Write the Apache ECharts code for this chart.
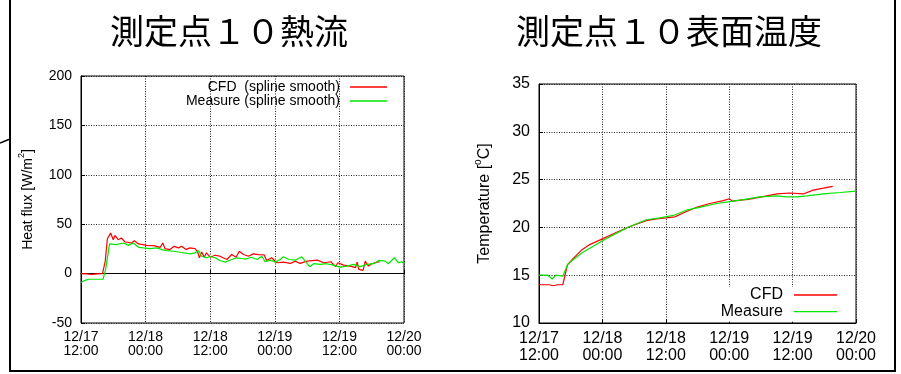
<!DOCTYPE html>
<html>
<head>
<meta charset="utf-8">
<script src="https://cdn.jsdelivr.net/npm/echarts@6/dist/echarts.min.js"></script>
<style>
  html, body { margin: 0; padding: 0; background: #fff; }
  #chart { width: 901px; height: 374px; }
</style>
</head>
<body>
<div id="chart"></div>
<script>
// Time axis: hours elapsed since 12/17 12:00, ticks every 12 h
const timeTickLabels = ['12/17\n12:00', '12/18\n00:00', '12/18\n12:00', '12/19\n00:00', '12/19\n12:00', '12/20\n00:00'];

// Heat flux at point 10 [W/m2]
const fluxCfdHours = [0, 1, 2, 3, 4, 4.2, 4.5, 4.9, 5.5, 6, 6.3, 6.9, 7.5, 8.2, 8.8, 9.4, 9.9, 10.7, 12.2, 13.5,
  14.7, 15.2, 15.6, 16.5, 17.3, 18.1, 18.7, 19.5, 20.2, 21.2, 21.6, 22, 22.4, 22.9, 23.3, 24, 24.9, 25.8, 27.1, 28,
  28.8, 29.4, 30.2, 31.1, 32, 33, 34, 34.5, 35.4, 36.4, 37.6, 38.9, 39.8, 40.7, 42, 43.9, 45.1, 46.4, 47.3, 47.7,
  48.8, 50, 51, 51.3, 51.6, 52.4, 52.8, 53.4, 54, 55, 55.5];
const fluxCfd = [0, -0.3, -0.7, -0.3, 0, 1, 12.6, 35.3, 41, 34.3, 38.6, 34.3, 36, 32, 31.6, 31, 33.3, 30, 28.6, 28.3,
  26.6, 31, 25.3, 24.3, 27.6, 26, 27.6, 24.3, 26, 25.3, 22.6, 16, 22, 16.6, 21, 16.6, 18.6, 17.6, 14.3, 19.3,
  16.6, 22.6, 19.3, 17.6, 20, 19.3, 19, 13.3, 16, 11, 11.6, 10.3, 12.6, 10.3, 12.6, 13.6, 11, 12, 7, 11,
  8.6, 7.6, 6, 11.6, 4.3, 3.3, 12.6, 7.6, 10, 11.6, 12];

const fluxMeasHours = [0, 0.5, 1.4, 4.1, 4.6, 5.3, 6.6, 7.9, 8.8, 9.7, 10.7, 11.6, 12.8, 14.1, 15, 15.9, 17.2, 18.4,
  20.3, 21.2, 21.8, 22.4, 23.3, 24, 24.9, 25.8, 26.8, 28, 28.9, 30.2, 30.8, 31.7, 32.7, 33.6, 34.2, 35.2, 36.1, 37,
  37.6, 38.6, 39.8, 41, 42.5, 43.2, 44.4, 45.6, 46.9, 48.1, 49.4, 50.6, 51.9, 53.1, 54.4, 55.3, 56.5, 57.1, 58.2,
  59, 59.6, 60];
const fluxMeas = [-9, -7.4, -5.7, -5.7, 5, 30, 29.3, 31, 28.6, 31, 26.6, 26, 25.3, 26, 24.3, 23.3, 22.6, 21.6,
  20, 21, 23.3, 17.6, 16, 17.3, 16, 13.3, 11.6, 14.3, 16, 15, 15, 16.6, 14.3, 17.6, 12, 13.6, 11.6, 14.3,
  17, 14.3, 13.6, 17, 7, 10, 9.3, 10, 8.6, 6.6, 7.6, 9.3, 7, 9.3, 10, 13.3, 12.6, 10, 16,
  11, 12, 10];

// Surface temperature at point 10 [degC]
const tempCfdHours = [0, 2, 2.6, 3.5, 4.5, 5.4, 6.4, 8, 9.6, 12, 14.7, 17.2, 20.3, 22.2, 24.1, 25.7, 27.3, 29.8,
  32.3, 34.9, 36, 36.6, 39.9, 43.1, 45, 47.5, 50, 51.9, 53.8, 55.6];
const tempCfd = [14, 14, 13.9, 14, 14, 16.1, 16.7, 17.6, 18.2, 18.8, 19.5, 20.1, 20.7, 20.9, 21.0, 21.1, 21.5, 22.1,
  22.5, 22.8, 23.0, 22.75, 22.95, 23.3, 23.5, 23.6, 23.5, 23.9, 24.1, 24.3];

const tempMeasHours = [0, 1.7, 2.5, 3.2, 4.5, 5.4, 6.4, 8.3, 10.2, 12, 14.7, 17.2, 20.3, 22.9, 25.4, 27.9, 30.4,
  33.6, 36.1, 38.7, 41.8, 45, 46.9, 48.8, 50.7, 53.8, 57, 60];
const tempMeas = [15, 15, 14.6, 15, 14.9, 16.1, 16.6, 17.4, 18.0, 18.6, 19.4, 20.1, 20.8, 21.0, 21.25, 21.8, 22.1,
  22.5, 22.7, 22.9, 23.2, 23.3, 23.2, 23.2, 23.3, 23.5, 23.65, 23.8];

const zip = (xs, ys) => xs.map((x, i) => [x, ys[i]]);

const LATIN = 'Liberation Sans';
const CJK = 'Noto Sans CJK JP';
const RED = '#ff0000';
const GREEN = '#00e600';

function timeAxis(gridIndex, fontSize, lineHeight) {
  return {
    type: 'value', gridIndex, min: 0, max: 60, interval: 12,
    axisLine: { show: true, lineStyle: { color: '#000', width: 1 } },
    axisTick: { show: true, inside: true, length: 4, lineStyle: { color: '#000' } },
    axisLabel: {
      color: '#000', fontFamily: LATIN, fontSize, lineHeight, margin: 7,
      formatter: v => timeTickLabels[Math.round(v / 12)]
    },
    splitLine: { show: true, lineStyle: { color: '#222', type: [1, 1.5], width: 1 } }
  };
}

function valueAxis(gridIndex, min, max, interval, fontSize, nameRich) {
  return {
    type: 'value', gridIndex, min, max, interval,
    name: nameRich, nameLocation: 'middle', nameGap: 46,
    nameTextStyle: {
      rich: {
        n: { fontFamily: LATIN, fontSize, lineHeight: fontSize + 4, color: '#000', verticalAlign: 'bottom' },
        s: { fontFamily: LATIN, fontSize: Math.round(fontSize * 0.65), lineHeight: Math.round(fontSize * 0.65),
             color: '#000', verticalAlign: 'top' }
      }
    },
    axisLine: { show: true, lineStyle: { color: '#000', width: 1 } },
    axisTick: { show: true, inside: true, length: 4, lineStyle: { color: '#000' } },
    axisLabel: { color: '#000', fontFamily: LATIN, fontSize, margin: 9 },
    splitLine: { show: true, lineStyle: { color: '#222', type: [1, 1.5], width: 1 } }
  };
}

function lineSeries(name, xAxisIndex, data, color) {
  return {
    name, type: 'line', xAxisIndex, yAxisIndex: xAxisIndex, data,
    symbol: 'none', showSymbol: false, smooth: false, animation: false,
    lineStyle: { color, width: 1.2 }, itemStyle: { color }
  };
}

const chart = echarts.init(document.getElementById('chart'), null, { renderer: 'canvas' });
chart.setOption({
  backgroundColor: '#fff',
  animation: false,
  grid: [
    { left: 81, top: 76, width: 323, height: 247, show: true, borderColor: '#000', borderWidth: 1 },
    { left: 539, top: 84, width: 317, height: 239, show: true, borderColor: '#000', borderWidth: 1 }
  ],
  xAxis: [timeAxis(0, 14, 14), timeAxis(1, 16, 17)],
  yAxis: [
    valueAxis(0, -50, 200, 50, 14, '{n|Heat flux [W/m}{s|2}{n|]}'),
    valueAxis(1, 10, 35, 5, 16, '{n|Temperature [}{s|o}{n|C]}')
  ],
  legend: [
    {
      data: ['CFD  (spline smooth)', 'Measure (spline smooth)'],
      orient: 'vertical', align: 'right', right: 514, top: 80,
      icon: 'rect', itemWidth: 37, itemHeight: 1.3, itemGap: 0, padding: 0,
      textStyle: { fontFamily: LATIN, fontSize: 14, lineHeight: 13.3, color: '#000', padding: [0, 5, 0, 0] }
    },
    {
      data: ['CFD', 'Measure'],
      orient: 'vertical', align: 'right', right: 54, top: 287,
      icon: 'rect', itemWidth: 43, itemHeight: 1.3, itemGap: 0.7, padding: [0, 10, 2, 12],
      backgroundColor: '#fff',
      textStyle: { fontFamily: LATIN, fontSize: 16, lineHeight: 16, color: '#000', padding: [0, 6, 0, 0] }
    }
  ],
  series: [
    lineSeries('CFD  (spline smooth)', 0, zip(fluxCfdHours, fluxCfd), RED),
    lineSeries('Measure (spline smooth)', 0, zip(fluxMeasHours, fluxMeas), GREEN),
    lineSeries('CFD', 1, zip(tempCfdHours, tempCfd), RED),
    lineSeries('Measure', 1, zip(tempMeasHours, tempMeas), GREEN)
  ],
  graphic: [
    { type: 'text', x: 229, y: 31, style: { text: '測定点１０熱流', fontFamily: CJK, fontSize: 34, fill: '#000', align: 'center', verticalAlign: 'middle' } },
    { type: 'text', x: 669, y: 31, style: { text: '測定点１０表面温度', fontFamily: CJK, fontSize: 34, fill: '#000', align: 'center', verticalAlign: 'middle' } },
    // frame around the panel
    { type: 'line', shape: { x1: 10, y1: 0, x2: 10, y2: 372 }, style: { stroke: '#000', lineWidth: 2 } },
    { type: 'line', shape: { x1: 895, y1: 0, x2: 895, y2: 372 }, style: { stroke: '#000', lineWidth: 2 } },
    { type: 'line', shape: { x1: 9, y1: 371, x2: 896, y2: 371 }, style: { stroke: '#000', lineWidth: 2 } },
    { type: 'line', shape: { x1: 0, y1: 143, x2: 10, y2: 139 }, style: { stroke: '#000', lineWidth: 1.5 } }
  ]
});
</script>
</body>
</html>
